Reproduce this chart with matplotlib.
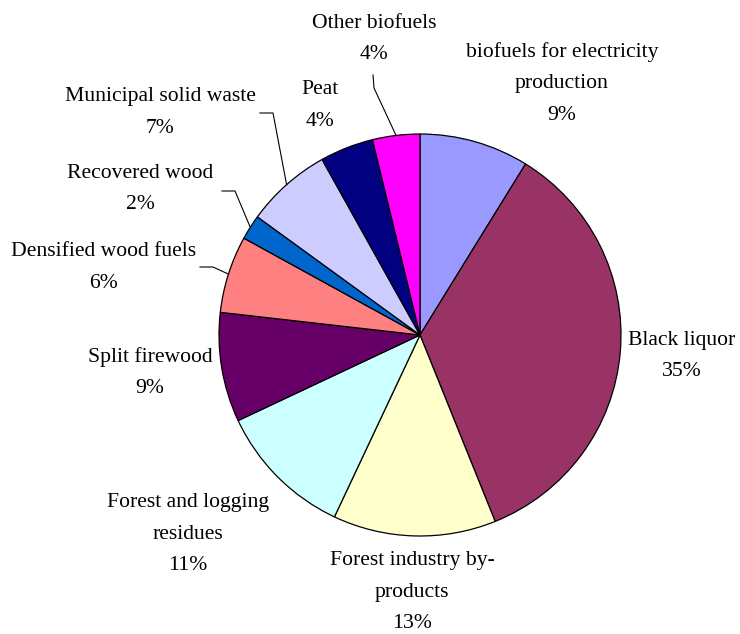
import numpy as np
import matplotlib
matplotlib.use("Agg")
import matplotlib.pyplot as plt

categories = ["biofuels for electricity\nproduction", "Black liquor", "Forest industry by-\nproducts",
              "Forest and logging\nresidues", "Split firewood", "Densified wood fuels",
              "Recovered wood", "Municipal solid waste", "Peat", "Other biofuels"]
values = [8.8, 35.1, 13.1, 11.0, 8.8, 6.2, 2.0, 6.9, 4.3, 3.8]
pct_labels = ["9%", "35%", "13%", "11%", "9%", "6%", "2%", "7%", "4%", "4%"]
colors = ["#9999FF", "#993366", "#FFFFCC", "#CCFFFF", "#660066", "#FF8080",
          "#0066CC", "#CCCCFF", "#000080", "#FF00FF"]

W, H = 740, 634
fig = plt.figure(figsize=(W / 100, H / 100), dpi=100)
ax = fig.add_axes([0, 0, 1, 1])

cx, cy, r = 420, H - 335, 201
wedges, _ = ax.pie(values, colors=colors, startangle=90, counterclock=False,
                   center=(cx, cy), radius=r, frame=True,
                   wedgeprops=dict(edgecolor="black", linewidth=0.9))
ax.set_xlim(0, W)
ax.set_ylim(0, H)
ax.set_aspect("equal")
ax.axis("off")

font = dict(family="Liberation Serif", fontsize=15.6, color="black")

# label layout: (center x, y of first line in image pixels)
label_pos = [(562, 52), (682, 340), (412, 561), (188, 503), (150, 357),
             (104, 252), (140, 173), (160, 97), (320, 90), (374, 23)]
pitch = 31.5
for cat, pct, (lx, ly) in zip(categories, pct_labels, label_pos):
    lines = cat.split("\n") + [pct]
    for i, line in enumerate(lines):
        ax.text(lx, H - (ly + i * pitch), line, ha="center", va="center", **font)

def edge_point(w):
    mid = np.deg2rad((w.theta1 + w.theta2) / 2)
    return cx + r * np.cos(mid), cy + r * np.sin(mid)

# leader lines: (wedge index, start point, knee point) in image pixels
leaders = [(9, (373, 75), (374, 88)),
           (7, (260, 113), (273, 113)),
           (6, (222, 191), (235, 191)),
           (5, (200, 267), (213, 267))]
for idx, p0, p1 in leaders:
    ex, ey = edge_point(wedges[idx])
    ax.plot([p0[0], p1[0], ex], [H - p0[1], H - p1[1], ey], color="black", lw=0.8)

fig.savefig("out.png", dpi=100)
